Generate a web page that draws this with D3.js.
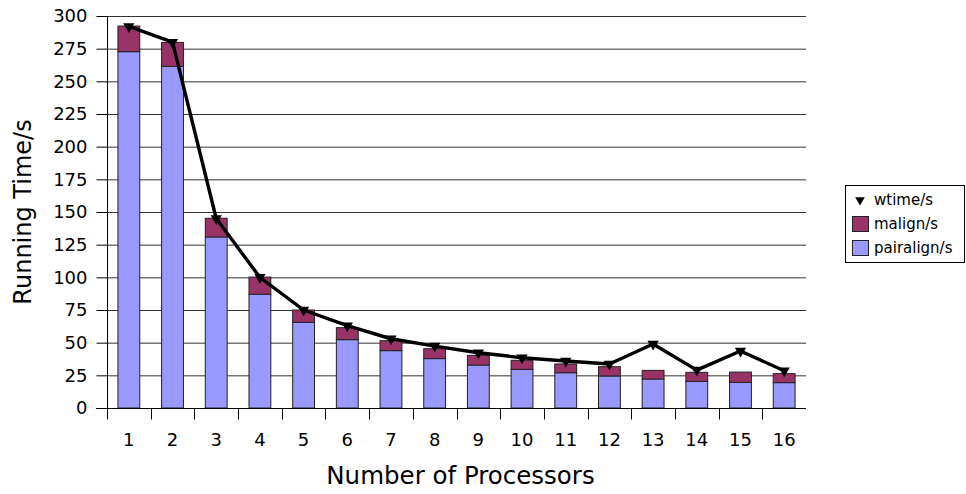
<!DOCTYPE html>
<html><head><meta charset="utf-8">
<script src="https://cdn.jsdelivr.net/npm/d3@7"></script>
<style>body{margin:0;background:#fff}svg{display:block;font-family:"DejaVu Sans",sans-serif}</style>
</head><body><svg id="c" width="966" height="494"></svg>
<script>
const categories = ["1","2","3","4","5","6","7","8","9","10","11","12","13","14","15","16"];
const pairalign = [272.7,261.5,130.9,87.1,65.6,52.3,43.9,37.8,32.9,29.6,27.0,24.5,22.2,20.4,19.6,19.4];
const malign    = [19.6,18.3,14.3,13.1,9.4,9.2,7.6,7.6,7.4,6.9,6.7,7.1,6.6,6.9,7.9,6.9];
const wtime     = [292,280,145,100,75,63,53,47.4,42.3,38.5,36,33.7,49,29,43.6,28.5];
const yTicks = [0,25,50,75,100,125,150,175,200,225,250,275,300];

const svg = d3.select("#c");
const L = 107, R = 806, T = 16, B = 408;
const x = d3.scaleBand().domain(categories).range([L, R]).paddingInner(0.5).paddingOuter(0.25);
const y = d3.scaleLinear().domain([0, 300]).range([B, T]);

// gridlines
svg.append("g").selectAll("line").data(yTicks.filter(d=>d>0)).join("line")
  .attr("x1", L).attr("x2", R).attr("y1", d=>y(d)+0.5).attr("y2", d=>y(d)+0.5)
  .attr("stroke", "#333").attr("stroke-width", 1);

// bars
const stacked = categories.map((c,i)=>({c, p: pairalign[i], m: malign[i]}));
const bars = svg.append("g");
bars.selectAll("rect.p").data(stacked).join("rect").attr("class","p")
  .attr("x", d=>x(d.c)).attr("width", x.bandwidth())
  .attr("y", d=>y(d.p)).attr("height", d=>y(0)-y(d.p))
  .attr("fill", "#9999ff").attr("stroke", "#222").attr("stroke-width", 1);
bars.selectAll("rect.m").data(stacked).join("rect").attr("class","m")
  .attr("x", d=>x(d.c)).attr("width", x.bandwidth())
  .attr("y", d=>y(d.p+d.m)).attr("height", d=>y(d.p)-y(d.p+d.m))
  .attr("fill", "#993366").attr("stroke", "#222").attr("stroke-width", 1);

// y axis
const yAxis = d3.axisLeft(y).tickValues(yTicks).tickSize(11).tickPadding(9);
const gy = svg.append("g").attr("transform", `translate(${L+0.5},0)`).call(yAxis);
gy.selectAll("text").attr("font-size", 18).attr("fill", "#000").attr("font-family","DejaVu Sans");
gy.selectAll("line,path").attr("stroke", "#000");
gy.select(".domain").attr("d", `M0,${T}V${B}`);

// x axis (ticks at band boundaries)
const xg = svg.append("g").attr("transform", `translate(0,${B+0.5})`);
xg.append("line").attr("x1", L-11).attr("x2", R).attr("stroke", "#000");
const bounds = d3.range(categories.length+1).map(i => L + i*(R-L)/categories.length);
xg.selectAll("line.t").data(bounds.slice(0,-1)).join("line").attr("class","t")
  .attr("x1", d=>Math.round(d)+0.5).attr("x2", d=>Math.round(d)+0.5).attr("y1",0).attr("y2",11).attr("stroke","#000");
xg.selectAll("text").data(categories).join("text")
  .attr("x", d=>x(d)+x.bandwidth()/2).attr("y", 37)
  .attr("text-anchor","middle").attr("font-size",18).text(d=>d);

// line
const line = d3.line().x((d,i)=>x(categories[i])+x.bandwidth()/2).y(d=>y(d));
svg.append("path").datum(wtime).attr("d", line).attr("fill","none")
  .attr("stroke","#000").attr("stroke-width",3.4).attr("stroke-linejoin","round");
const tri = d3.symbol().type(d3.symbolTriangle).size(55);
svg.append("g").selectAll("path").data(wtime).join("path")
  .attr("d", tri).attr("fill","#000")
  .attr("transform", (d,i)=>`translate(${x(categories[i])+x.bandwidth()/2},${y(d)}) rotate(180)`);

// titles
svg.append("text").attr("x", (L+R)/2 + 4).attr("y", 484).attr("text-anchor","middle")
  .attr("font-size",24.5).text("Number of Processors");
svg.append("text").attr("transform", `translate(31,${(T+B)/2}) rotate(-90)`).attr("text-anchor","middle")
  .attr("font-size",24).text("Running Time/s");

// legend
const lg = svg.append("g");
lg.append("rect").attr("x",845.5).attr("y",185.5).attr("width",119).attr("height",77)
  .attr("fill","#fff").attr("stroke","#000");
const items = [{n:"wtime/s",t:"tri"},{n:"malign/s",c:"#993366"},{n:"pairalign/s",c:"#9999ff"}];
const ly = [200, 224, 248];
items.forEach((it,i)=>{
  if (it.t) {
    lg.append("path").attr("d", d3.symbol().type(d3.symbolTriangle).size(40)())
      .attr("transform", `translate(860,${ly[i]}) rotate(180)`).attr("fill","#000");
  } else {
    lg.append("rect").attr("x",852.5).attr("y",ly[i]-7.5).attr("width",16).attr("height",15)
      .attr("fill",it.c).attr("stroke","#222");
  }
  lg.append("text").attr("x",874).attr("y",ly[i]+5).attr("font-size",15).text(it.n);
});
</script></body></html>
